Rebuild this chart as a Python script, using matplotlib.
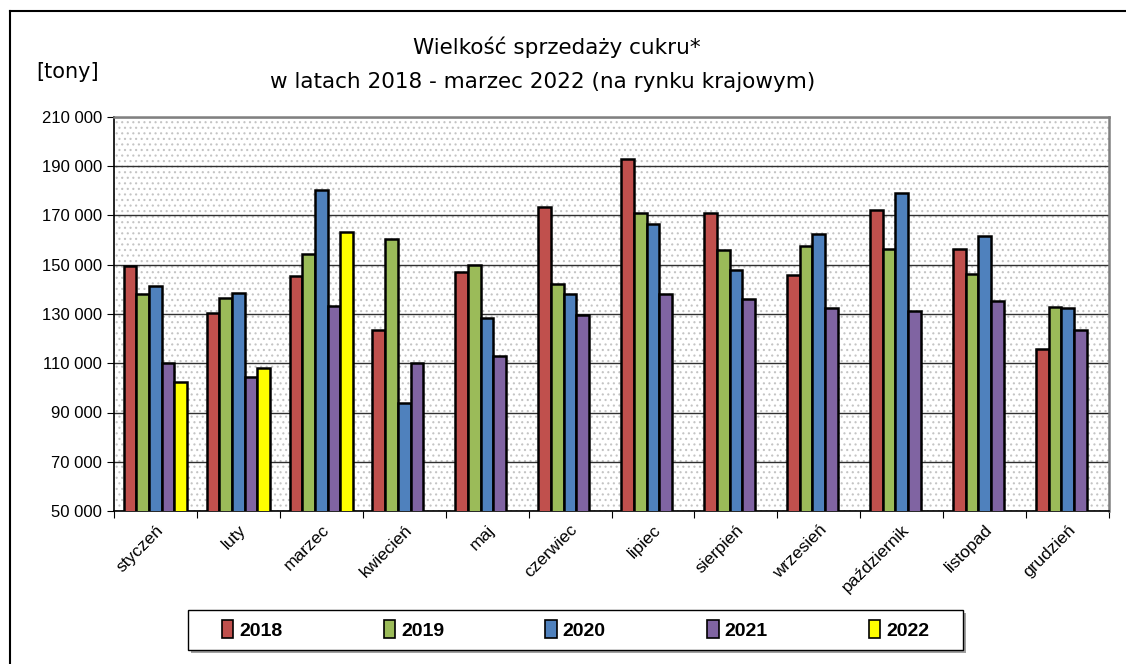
import matplotlib
matplotlib.use("Agg")
import matplotlib.pyplot as plt
from matplotlib.lines import Line2D
from matplotlib.patches import Rectangle, Patch
from matplotlib.ticker import FuncFormatter
import numpy as np

months = ["styczeń", "luty", "marzec", "kwiecień", "maj", "czerwiec",
          "lipiec", "sierpień", "wrzesień", "październik", "listopad", "grudzień"]
years = ["2018", "2019", "2020", "2021", "2022"]
s2018 = [149300, 130600, 145500, 123600, 147000, 173500, 192800, 171200, 146000, 172200, 156200, 115700]
s2019 = [138100, 136600, 154400, 160500, 149800, 142300, 171200, 155800, 157800, 156200, 146200, 132900]
s2020 = [141300, 138600, 180300, 94000, 128200, 138100, 166600, 147800, 162400, 179100, 161500, 132400]
s2021 = [109900, 104300, 133300, 110000, 112900, 129500, 138100, 136200, 132500, 131200, 135300, 123700]
s2022 = [102400, 108100, 163400]
yticks = [50000, 70000, 90000, 110000, 130000, 150000, 170000, 190000, 210000]
colors = ["#C0504D", "#9BBB59", "#4F81BD", "#8064A2", "#FFFF00"]

series = [s2018, s2019, s2020, s2021, s2022]

plt.rcParams["hatch.linewidth"] = 0.8

fig = plt.figure(figsize=(11.26, 6.64), dpi=100)
ax = fig.add_axes([114 / 1126, 1 - 511 / 664, (1109 - 114) / 1126, (511 - 117) / 664])

# dotted plot-area background
bg = Rectangle((0, 0), 1, 1, transform=ax.transAxes, facecolor="white",
               edgecolor="#c4c4c4", hatch="...", linewidth=0, zorder=0)
ax.add_patch(bg)
ax.set_facecolor("white")

bw = 0.153
pad = (1 - 5 * bw) / 2
for k, (vals, col) in enumerate(zip(series, colors)):
    x = np.arange(len(vals)) + pad + bw * (k + 0.5)
    ax.bar(x, vals, width=bw, color=col, edgecolor="black", linewidth=1.8, zorder=3)

ax.set_xlim(0, 12)
ax.set_ylim(50000, 210000)
ax.set_yticks(yticks)
ax.yaxis.set_major_formatter(FuncFormatter(lambda v, p: f"{int(v):,}".replace(",", " ")))
ax.grid(axis="y", color="#303030", linewidth=1.0, zorder=1)
ax.set_axisbelow(True)

ax.set_xticks(np.arange(13))
ax.set_xticklabels([])
ax.set_xticks(np.arange(12) + 0.5, minor=True)
ax.set_xticklabels(months, minor=True, rotation=45, ha="right", rotation_mode="anchor",
                   fontsize=12.5, family="Liberation Sans")
ax.tick_params(axis="x", which="minor", length=0, pad=8)
ax.tick_params(axis="x", which="major", length=5, direction="out", color="black")
ax.tick_params(axis="y", length=5, direction="out", labelsize=12)
for lab in ax.get_yticklabels():
    lab.set_family("Liberation Sans")

ax.spines["left"].set_color("black")
ax.spines["bottom"].set_color("black")
ax.spines["left"].set_linewidth(1.2)
ax.spines["bottom"].set_linewidth(1.2)
ax.spines["top"].set_color("#808080")
ax.spines["right"].set_color("#808080")
ax.spines["top"].set_linewidth(1.8)
ax.spines["right"].set_linewidth(1.8)

fig.text(557 / 1126, 1 - 47 / 664, "Wielkość sprzedaży cukru*", ha="center", va="center", fontsize=15.5)
fig.text(543 / 1126, 1 - 82 / 664, "w latach 2018 - marzec 2022 (na rynku krajowym)",
         ha="center", va="center", fontsize=15.5)
fig.text(68 / 1126, 1 - 72 / 664, "[tony]", ha="center", va="center", fontsize=15)

# outer chart frame
fig.add_artist(Line2D([10 / 1126, 1], [1 - 11 / 664, 1 - 11 / 664], color="black", lw=1.5))
fig.add_artist(Line2D([10 / 1126, 10 / 1126], [0, 1 - 11 / 664], color="black", lw=1.5))

# legend box
fig.add_artist(Rectangle((191 / 1126, 1 - 653 / 664), 775 / 1126, 40 / 664,
                         transform=fig.transFigure, facecolor="#a0a0a0", edgecolor="none"))
fig.add_artist(Rectangle((188 / 1126, 1 - 650 / 664), 775 / 1126, 40 / 664,
                         transform=fig.transFigure, facecolor="white", edgecolor="black", lw=1.0))
handles = [Patch(facecolor=c, edgecolor="black", linewidth=1.2) for c in colors]
leg = fig.legend(handles, years, loc="center", bbox_to_anchor=(0.511, 1 - 630 / 664), ncol=5,
                 frameon=False, handlelength=0.6, handleheight=1.0, handletextpad=0.3,
                 columnspacing=5.2, prop={"family": "Liberation Sans", "weight": "bold", "size": 14})

fig.savefig("out.png", dpi=100)
